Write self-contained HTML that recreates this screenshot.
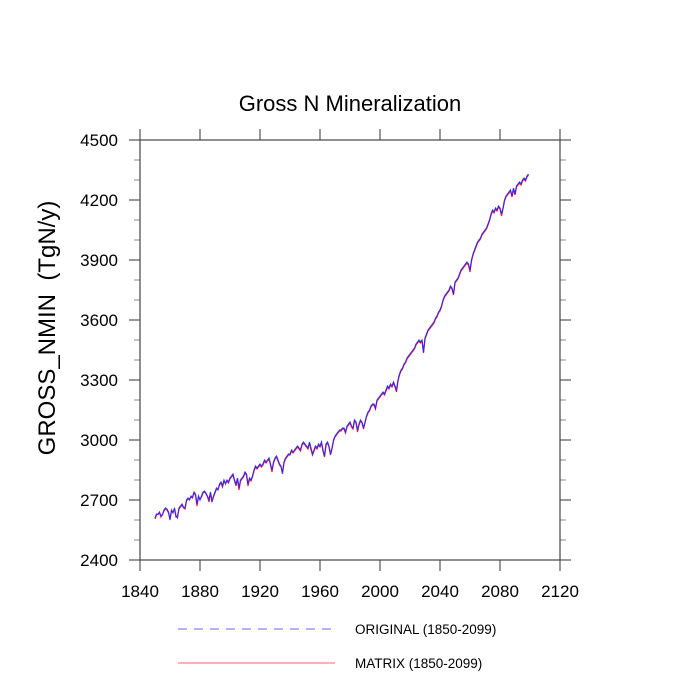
<!DOCTYPE html>
<html><head><meta charset="utf-8"><style>
html,body{margin:0;padding:0;background:#fff;}
svg{display:block;font-family:"Liberation Sans",sans-serif;}
</style></head><body>
<svg id="chart" width="700" height="700" xmlns="http://www.w3.org/2000/svg">
<text x="350" y="111" font-size="22" text-anchor="middle">Gross N Mineralization</text>
<text transform="translate(55,328) rotate(-90)" font-size="24" text-anchor="middle" xml:space="preserve">GROSS_NMIN  (TgN/y)</text>
<g id="ticks"></g>
<g id="series"></g>
<rect x="140" y="140" width="420" height="420" fill="none" stroke="#444" stroke-width="1.2"/>
<g>
<line x1="178" y1="629" x2="335" y2="629" stroke="#6666ff" stroke-width="1" stroke-dasharray="9,7"/>
<text x="355" y="634" font-size="13.5">ORIGINAL (1850-2099)</text>
<line x1="178" y1="663" x2="335" y2="663" stroke="#ff6666" stroke-width="1"/>
<text x="355" y="668" font-size="13.5">MATRIX (1850-2099)</text>
</g>
</svg>
<script>
const startYear = 1850;
const xTicks = [1840,1880,1920,1960,2000,2040,2080,2120];
const yTicks = [2400,2700,3000,3300,3600,3900,4200,4500];
const yMinor = [2500,2600,2800,2900,3100,3200,3400,3500,3700,3800,4000,4100,4300,4400];
const original = [
2610,2630,2628,2640,2620,2625,2650,2660,2655,2640,
2600,2650,2635,2660,2620,2610,2660,2670,2680,2665,
2660,2700,2710,2700,2720,2715,2740,2730,2680,2720,
2700,2720,2740,2745,2730,2720,2700,2740,2690,2720,
2740,2760,2750,2780,2790,2770,2800,2780,2800,2790,
2810,2820,2830,2800,2780,2810,2760,2800,2810,2820,
2840,2830,2780,2810,2800,2820,2850,2870,2860,2870,
2880,2870,2880,2900,2890,2900,2910,2880,2850,2890,
2910,2920,2900,2880,2870,2830,2890,2910,2920,2930,
2930,2950,2940,2950,2960,2970,2960,2950,2980,2990,
2980,2970,2960,2990,2960,2930,2950,2970,2960,2980,
2970,2990,2950,2920,2980,2990,2970,2930,2960,3000,
3020,3030,3040,3050,3050,3060,3060,3040,3070,3080,
3090,3070,3060,3100,3090,3050,3080,3100,3090,3060,
3090,3120,3140,3150,3170,3180,3180,3160,3200,3210,
3220,3230,3240,3230,3250,3270,3260,3280,3270,3290,
3270,3250,3300,3330,3350,3360,3380,3390,3410,3420,
3430,3440,3450,3460,3480,3490,3500,3490,3500,3440,
3510,3530,3550,3560,3570,3580,3590,3610,3620,3640,
3650,3670,3700,3720,3730,3740,3750,3770,3760,3730,
3790,3800,3810,3830,3850,3860,3870,3880,3890,3880,
3850,3900,3930,3950,3970,3990,4000,4010,4030,4040,
4050,4060,4080,4100,4130,4150,4140,4160,4150,4170,
4160,4130,4160,4200,4220,4230,4240,4250,4220,4260,
4230,4270,4280,4290,4280,4300,4310,4300,4320,4330];
const matrix = [
2605,2625,2630,2635,2615,2630,2645,2655,2650,2635,
2605,2645,2640,2655,2615,2620,2655,2665,2675,2660,
2655,2695,2705,2705,2715,2710,2735,2725,2670,2715,
2705,2715,2735,2740,2735,2715,2690,2735,2695,2715,
2735,2755,2755,2775,2785,2765,2795,2785,2795,2785,
2805,2815,2825,2795,2770,2805,2750,2795,2805,2815,
2835,2825,2770,2805,2795,2815,2845,2865,2855,2865,
2875,2865,2875,2895,2885,2895,2905,2875,2840,2885,
2905,2915,2895,2875,2865,2840,2885,2905,2915,2925,
2925,2945,2935,2945,2955,2965,2955,2945,2975,2985,
2975,2965,2955,2985,2950,2925,2945,2965,2955,2975,
2965,2985,2945,2915,2975,2985,2965,2925,2955,2995,
3015,3025,3035,3045,3045,3055,3055,3035,3065,3075,
3085,3065,3055,3095,3085,3040,3075,3095,3085,3055,
3085,3115,3135,3145,3165,3175,3175,3155,3195,3205,
3215,3225,3235,3225,3245,3265,3255,3275,3265,3285,
3265,3240,3295,3325,3345,3355,3375,3385,3405,3415,
3425,3435,3445,3455,3475,3485,3495,3485,3495,3435,
3505,3525,3545,3555,3565,3575,3585,3605,3615,3635,
3645,3665,3695,3715,3725,3735,3745,3765,3755,3725,
3785,3795,3805,3825,3845,3855,3865,3875,3885,3875,
3840,3895,3925,3945,3965,3985,3995,4005,4025,4035,
4045,4055,4075,4095,4125,4145,4135,4155,4145,4165,
4155,4120,4155,4195,4215,4225,4235,4245,4215,4255,
4225,4265,4275,4285,4275,4295,4305,4295,4315,4325];

const X = y => 140 + (y - 1840) * 420 / 280;
const Y = v => 560 - (v - 2400) * 420 / 2100;
const NS = "http://www.w3.org/2000/svg";
const ticks = document.getElementById('ticks');
const series = document.getElementById('series');
function mk(tag, attrs, parent){ const e=document.createElementNS(NS,tag); for(const k in attrs) e.setAttribute(k,attrs[k]); parent.appendChild(e); return e; }

xTicks.forEach(t=>{
  const x=X(t);
  const a=mk('line',{x1:x,y1:560,x2:x,y2:571,stroke:'#555','stroke-width':1.2},ticks);
  
  
  const b=mk('line',{x1:x,y1:140,x2:x,y2:129,stroke:'#555','stroke-width':1.2},ticks);
  
  
  const l=mk('text',{x:x,y:597,'font-size':17,'text-anchor':'middle'},ticks);
  l.textContent=t;
  
  
});
yTicks.forEach(t=>{
  const y=Y(t);
  const a=mk('line',{x1:129,y1:y,x2:140,y2:y,stroke:'#555','stroke-width':1.2},ticks);
  
  
  const b=mk('line',{x1:560,y1:y,x2:571,y2:y,stroke:'#555','stroke-width':1.2},ticks);
  
  
  const l=mk('text',{x:118,y:y+6,'font-size':17,'text-anchor':'end'},ticks);
  l.textContent=t;
  
  
});
yMinor.forEach(t=>{
  const y=Y(t);
  const a=mk('line',{x1:134,y1:y,x2:140,y2:y,stroke:'#888','stroke-width':1},ticks);
  
  
  const b=mk('line',{x1:560,y1:y,x2:566,y2:y,stroke:'#888','stroke-width':1},ticks);
  
  
});
function pts(arr){ return arr.map((v,i)=>X(startYear+i).toFixed(2)+','+Y(v).toFixed(2)).join(' '); }
const pm=mk('polyline',{points:pts(matrix),fill:'none',stroke:'#ff2020','stroke-width':1.2},series);


const po=mk('polyline',{points:pts(original),fill:'none',stroke:'#2020ff','stroke-width':1.2,'stroke-opacity':0.85},series);


</script>
</body></html>
